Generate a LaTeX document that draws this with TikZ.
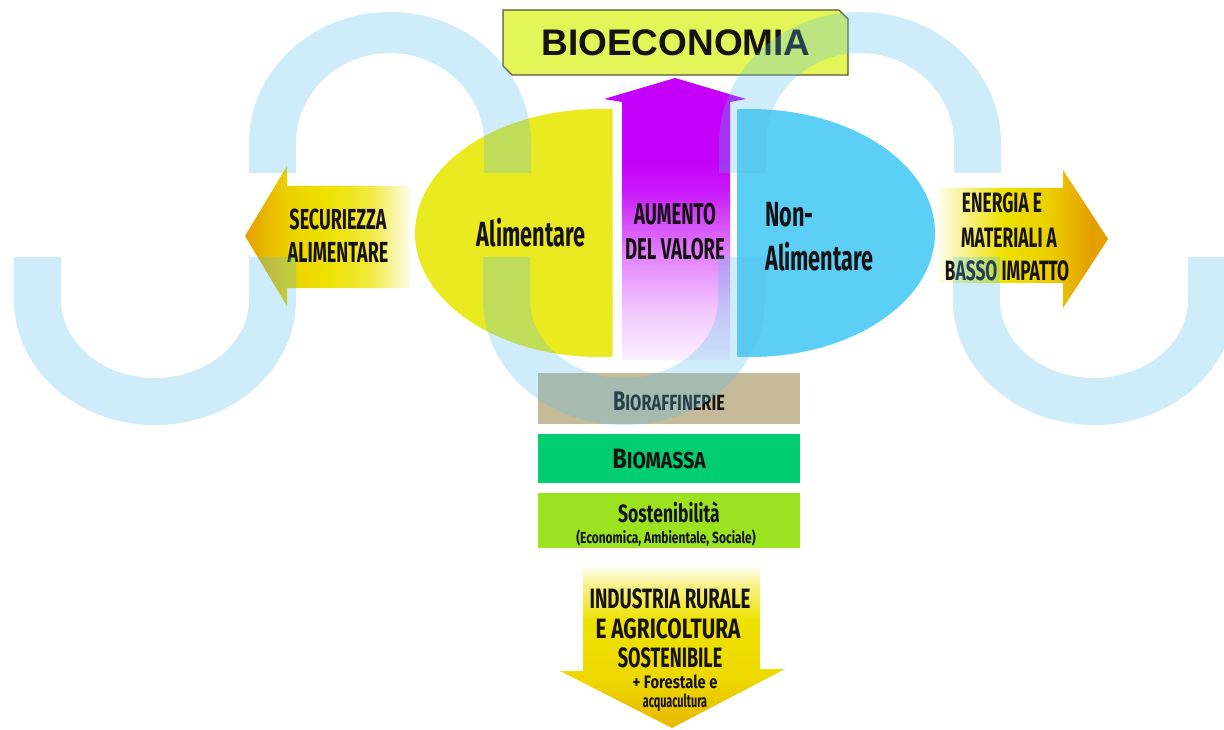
\documentclass[tikz,border=0pt]{standalone}
\usepackage{fontspec}
\setmainfont{Liberation Sans}
\newfontfamily\cf[FakeStretch=0.62]{Fira Sans}
\newfontfamily\arialb{Liberation Sans}
\definecolor{wmblue}{RGB}{80,190,235}
\definecolor{bioFill}{RGB}{228,245,88}
\definecolor{bioEdge}{RGB}{85,88,60}
\definecolor{aliY}{RGB}{234,234,32}
\definecolor{nonB}{RGB}{92,207,246}
\definecolor{purA}{RGB}{196,0,250}
\definecolor{orA}{RGB}{228,160,0}
\definecolor{yeA}{RGB}{238,226,0}
\definecolor{tanB}{RGB}{198,186,153}
\definecolor{greenB}{RGB}{0,204,112}
\definecolor{limeB}{RGB}{155,226,32}
\definecolor{txt}{RGB}{22,18,18}
\pgfdeclarehorizontalshading{secshade}{100bp}{color(0bp)=(orA); color(25bp)=(orA); color(38bp)=(yeA!75!orA); color(50bp)=(yeA); color(63bp)=(yeA!75!white); color(75bp)=(yeA!8!white); color(100bp)=(white)}
\pgfdeclarehorizontalshading{enshade}{100bp}{color(0bp)=(white); color(25bp)=(white); color(34bp)=(yeA!45!white); color(45bp)=(yeA); color(58bp)=(yeA!70!orA); color(70bp)=(orA); color(100bp)=(orA)}
\pgfdeclareverticalshading{purshade}{100bp}{color(0bp)=(white); color(25bp)=(purA!6!white); color(33bp)=(purA!20!white); color(44bp)=(purA!50!white); color(55bp)=(purA!90!white); color(60bp)=(purA); color(100bp)=(purA)}
\pgfdeclareverticalshading{indshade}{100bp}{color(0bp)=(orA!70!yeA); color(25bp)=(orA!65!yeA); color(40bp)=(yeA!85!orA); color(58bp)=(yeA); color(69bp)=(yeA!45!white); color(75bp)=(white); color(100bp)=(white)}
\newcommand\wmcap[1]{\fill[wmblue,opacity=0.28] ({#1-141},173) -- ({#1-141},143) arc[start angle=180,end angle=0,x radius=141pt,y radius=131pt] -- ({#1+141},173) -- ({#1+94},173) -- ({#1+94},143) arc[start angle=0,end angle=180,x radius=94pt,y radius=90pt] -- ({#1-94},173) -- cycle;}
\newcommand\wmcup[1]{\fill[wmblue,opacity=0.28] ({#1-141},257) -- ({#1-141},300) arc[start angle=180,end angle=360,x radius=141pt,y radius=125pt] -- ({#1+141},257) -- ({#1+94},257) -- ({#1+94},300) arc[start angle=360,end angle=180,x radius=94pt,y radius=78pt] -- ({#1-94},257) -- cycle;}
\tikzset{lbl/.style={font=\cf\bfseries, text=txt, inner sep=0pt}}
\newcommand\fsz[1]{\fontsize{#1pt}{#1pt}\selectfont}
\newcommand\hs[2]{\scalebox{#1}[1]{#2}}
\begin{document}
\begin{tikzpicture}[x=1pt,y=-1pt]
\useasboundingbox (0,0) rectangle (1224,730);
\fill[white] (0,0) rectangle (1224,730);
% side arrows
\shade[shading=secshade] (245,236) -- (287,166) -- (287,186) -- (410,186) -- (410,288) -- (287,288) -- (287,306) -- cycle;
\shade[shading=enshade] (933,188) -- (1063,188) -- (1063,170) -- (1108,239) -- (1063,308) -- (1063,283) -- (933,283) -- cycle;
% half ellipses
\begin{scope}
\clip (400,100) rectangle (612.5,370);
\fill[aliY] (600,233) ellipse[x radius=185pt,y radius=124pt];
\end{scope}
\begin{scope}
\clip (737,100) rectangle (950,370);
\fill[nonB] (750,233) ellipse[x radius=185pt,y radius=124pt];
\end{scope}
% purple arrow
\shade[shading=purshade] (622,360) -- (622,102) -- (604,99) -- (675,78) -- (746,99) -- (730,102) -- (730,360) -- cycle;
% bioeconomia box
\draw[bioEdge, line width=1.3pt, fill=bioFill] (503,10) -- (839,10) -- (848,19) -- (848,75) -- (512,75) -- (503,66) -- cycle;
\node[font=\arialb\bfseries\fsz{37}, text=txt, inner sep=0pt] (bio) at (676,43) {BIOECONOMIA};
% stacked boxes
\fill[tanB] (538,373) rectangle (800,424);
\fill[greenB] (538,434) rectangle (800,483);
\fill[limeB] (538,493) rectangle (800,548);
% bottom arrow
\shade[shading=indshade] (583,565) -- (760,565) -- (760,669) -- (785,669) -- (672,728) -- (560,671) -- (583,671) -- cycle;
% texts
\node[lbl, font=\cf\bfseries\fsz{29}, anchor=base] (sec1) at (338,230) {SECURIEZZA};
\node[lbl, font=\cf\bfseries\fsz{29}, anchor=base] (sec2) at (338,262) {ALIMENTARE};
\node[lbl, font=\cf\bfseries\fsz{35}, anchor=base] (ali) at (531,247) {Alimentare};
\node[lbl, font=\cf\bfseries\fsz{30}, anchor=base] (aum1) at (675,225) {AUMENTO};
\node[lbl, font=\cf\bfseries\fsz{30}, anchor=base] (aum2) at (675,260) {DEL VALORE};
\node[lbl, font=\cf\bfseries\fsz{35}, anchor=base west] (non1) at (765,227) {Non-};
\node[lbl, font=\cf\bfseries\fsz{35}, anchor=base west] (non2) at (765,270) {Alimentare};
\node[lbl, font=\cf\bfseries\fsz{28}, anchor=base] (en1) at (1002,213) {ENERGIA E};
\node[lbl, font=\cf\bfseries\fsz{28}, anchor=base] (en2) at (1009,248) {MATERIALI A};
\node[lbl, font=\cf\bfseries\fsz{28}, anchor=base] (en3) at (1007,280) {BASSO IMPATTO};
\node[lbl, anchor=base] (bior) at (669,410) {\hs{1.2}{\fsz{27}B\fsz{22}IORAFFINERIE}};
\node[lbl, anchor=base] (biom) at (659,468) {\hs{1.36}{\fsz{28}B\fsz{23}IOMASSA}};
\node[lbl, anchor=base] (sost) at (669,522) {\hs{1.13}{\fsz{25}Sostenibilità}};
\node[lbl, anchor=base] (sost2) at (666,543) {\hs{1.21}{\fsz{16}(Economica, Ambientale, Sociale)}};
\node[lbl, anchor=base] (ind1) at (670,608) {\hs{1.08}{\fsz{28}INDUSTRIA RURALE}};
\node[lbl, anchor=base] (ind2) at (668,638) {\hs{1.2}{\fsz{28}E AGRICOLTURA}};
\node[lbl, anchor=base] (ind3) at (670,667) {\hs{1.04}{\fsz{28}SOSTENIBILE}};
\node[lbl, anchor=base] (ind4) at (675,688) {\hs{1.32}{\fsz{18}+ Forestale e}};
\node[lbl, anchor=base] (ind5) at (675,707) {\hs{0.97}{\fsz{18}acquacultura}};
% watermark
\wmcup{155}
\wmcap{390}
\wmcup{624}
\wmcap{860}
\wmcup{1094}
\end{tikzpicture}
\end{document}
